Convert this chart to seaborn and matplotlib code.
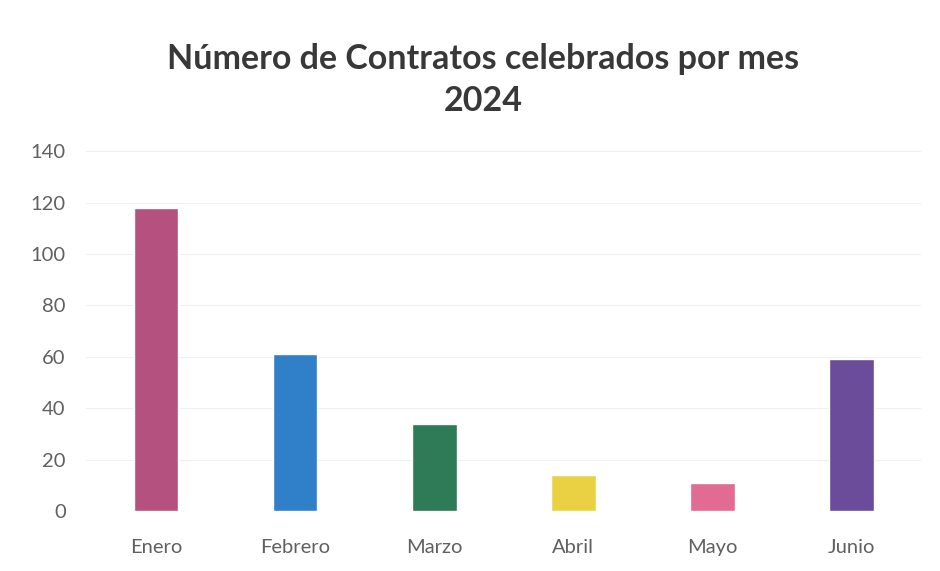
import matplotlib
matplotlib.use("Agg")
import matplotlib.pyplot as plt
import seaborn as sns
import pandas as pd

meses = ["Enero", "Febrero", "Marzo", "Abril", "Mayo", "Junio"]
contratos = [118, 61, 34, 14, 11, 59]
colores = ["#B4517F", "#2F80C9", "#2F7A57", "#E9D143", "#E26B93", "#6A4C9B"]
y_ticks = [0, 20, 40, 60, 80, 100, 120, 140]

sns.set_theme(style="white")
plt.rcParams["font.family"] = ["Lato", "DejaVu Sans"]

df = pd.DataFrame({"mes": meses, "contratos": contratos})

fig = plt.figure(figsize=(9.4, 5.71), dpi=100)
ax = fig.add_axes([0.092, 0.105, 0.888, 0.63])

sns.barplot(data=df, x="mes", y="contratos", hue="mes", palette=colores,
            legend=False, width=0.32, ax=ax, saturation=1)

ax.set_ylim(0, 140)
ax.set_yticks(y_ticks)
ax.set_yticklabels([str(t) for t in y_ticks])
ax.set_xlim(-0.5, 5.5)
ax.yaxis.grid(True, color="#F0F0F0", linewidth=0.8)
ax.set_axisbelow(True)
for s in ax.spines.values():
    s.set_visible(False)
ax.set_xlabel("")
ax.set_ylabel("")
ax.tick_params(axis="both", length=0, labelsize=14.5, colors="#606060")
ax.tick_params(axis="x", pad=20)
ax.tick_params(axis="y", pad=15)

fig.text(0.514, 0.897, "Número de Contratos celebrados por mes", ha="center",
         va="center", fontsize=24.5, fontweight="bold", color="#383838")
fig.text(0.514, 0.823, "2024", ha="center", va="center", fontsize=24.5,
         fontweight="bold", color="#383838")

fig.savefig("out.png", dpi=100, facecolor="white")
